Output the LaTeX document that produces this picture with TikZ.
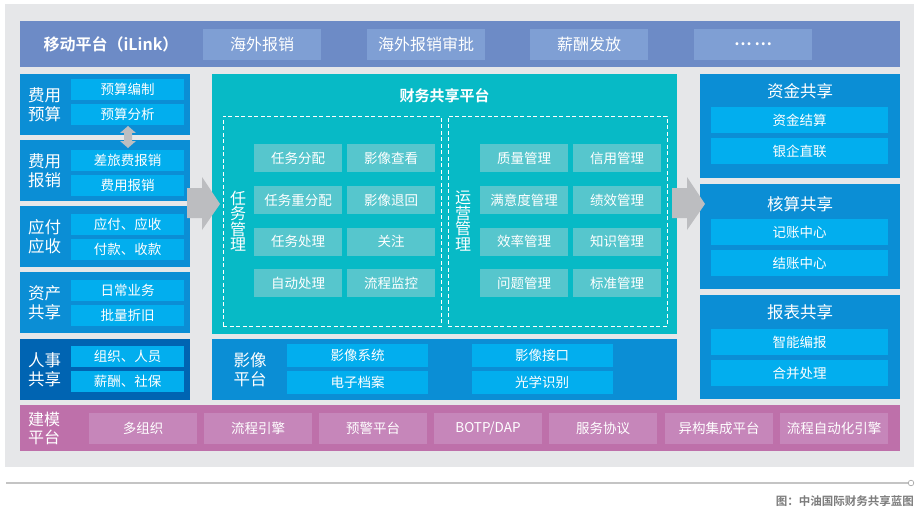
\documentclass[tikz,border=0pt]{standalone}
\usepackage{fontspec}
\setmainfont{Noto Sans CJK SC}[BoldFont={Noto Sans CJK SC Bold}]
\definecolor{bggray}{HTML}{E6E7E9}
\definecolor{topbar}{HTML}{6D8BC6}
\definecolor{topitem}{HTML}{7F9FD4}
\definecolor{blk}{HTML}{0B8ED5}
\definecolor{blkdark}{HTML}{0064B2}
\definecolor{subb}{HTML}{02AEEE}
\definecolor{teal}{HTML}{07BAC6}
\definecolor{tealitem}{HTML}{56C6CD}
\definecolor{purp}{HTML}{BE70AA}
\definecolor{purpitem}{HTML}{C686BA}
\definecolor{arrgray}{HTML}{BCBDC0}
\definecolor{capgray}{HTML}{7C7C7C}
\definecolor{linegray}{HTML}{C4C4C4}
\tikzset{
  base/.style={inner sep=0pt, outer sep=0pt, text=white, align=center},
  panel/.style={base, fill=blk},
  subbox/.style={base, fill=subb, font=\fontsize{13.5}{15}\selectfont},
  topitembox/.style={base, fill=topitem, minimum width=118pt, minimum height=31pt, font=\fontsize{16}{17}\selectfont},
  gridbox/.style={base, fill=tealitem, minimum width=88pt, minimum height=28pt, font=\fontsize{13.5}{15}\selectfont},
  purpbox/.style={base, fill=purpitem, minimum width=108pt, minimum height=31pt, font=\fontsize{13.5}{15}\selectfont},
  biglabel/.style={base, font=\fontsize{16.5}{19}\selectfont},
  vlabel/.style={base, font=\fontsize{16}{15.5}\selectfont},
  dashbox/.style={draw=white, line width=0.8pt, dash pattern=on 4pt off 2.5pt, inner sep=0pt, outer sep=0pt},
  bigarrow/.style={fill=arrgray, draw=none}
}
\begin{document}
\begin{tikzpicture}[x=1pt,y=-1pt]
\useasboundingbox (0,0) rectangle (923,516);
% background
\fill[bggray] (5,4) rectangle (914,467);

% top bar
\node[base, fill=topbar, minimum width=880pt, minimum height=46pt] (top) at (460,44) {};
\node[base, font=\bfseries\fontsize{16}{17}\selectfont] (toplbl) at (111,44) {移动平台（iLink）};
\node[topitembox] (t1) at (262,44.5) {海外报销};
\node[topitembox] (t2) at (426,44.5) {海外报销审批};
\node[topitembox] (t3) at (589,44.5) {薪酬发放};
\node[topitembox] (t4) at (753,44.5) {\textbf{…\,…}};

% left column
\node[panel, minimum width=170pt, minimum height=61pt] (L1) at (105,104.5) {};
\node[panel, minimum width=170pt, minimum height=61pt] (L2) at (105,170.5) {};
\node[panel, minimum width=170pt, minimum height=61pt] (L3) at (105,236.5) {};
\node[panel, minimum width=170pt, minimum height=61pt] (L4) at (105,302.5) {};
\node[panel, fill=blkdark, minimum width=170pt, minimum height=61pt] (L5) at (105,369.5) {};

\node[biglabel] (L1t) at (44.5,104.5) {费用\\预算};
\node[biglabel] (L2t) at (44.5,170.5) {费用\\报销};
\node[biglabel] (L3t) at (44.5,236.5) {应付\\应收};
\node[biglabel] (L4t) at (44.5,302.5) {资产\\共享};
\node[biglabel] (L5t) at (44.5,369.5) {人事\\共享};

\tikzset{lsub/.style={subbox, minimum width=113pt, minimum height=21pt}}
\node[lsub] (l1a) at (127.5,89.5) {预算编制};
\node[lsub] (l1b) at (127.5,114.5) {预算分析};
\node[lsub] (l2a) at (127.5,160.5) {差旅费报销};
\node[lsub] (l2b) at (127.5,185.5) {费用报销};
\node[lsub] (l3a) at (127.5,224.5) {应付、应收};
\node[lsub] (l3b) at (127.5,249) {付款、收款};
\node[lsub] (l4a) at (127.5,290.5) {日常业务};
\node[lsub] (l4b) at (127.5,315.5) {批量折旧};
\node[lsub] (l5a) at (127.5,356.5) {组织、人员};
\node[lsub] (l5b) at (127.5,381.5) {薪酬、社保};

% double arrow between budget and expense blocks
\fill[arrgray] (128,126) -- (136,133) -- (132,133) -- (132,141) -- (136,141) -- (128,148)
  -- (120,141) -- (124,141) -- (124,133) -- (120,133) -- cycle;

% central platform
\node[base, fill=teal, minimum width=465pt, minimum height=260pt] (C) at (444.5,204) {};
\node[base, font=\bfseries\fontsize{15}{17}\selectfont] (Ct) at (444.5,96) {财务共享平台};
\node[dashbox, minimum width=218pt, minimum height=210pt] (DL) at (332,221) {};
\node[dashbox, minimum width=219pt, minimum height=210pt] (DR) at (557.5,221) {};
\node[vlabel] (DLt) at (238,221) {任\\务\\管\\理};
\node[vlabel] (DRt) at (463,221) {运\\营\\管\\理};

\node[gridbox] (g11) at (298,158) {任务分配};
\node[gridbox] (g12) at (391,158) {影像查看};
\node[gridbox] (g21) at (298,200) {任务重分配};
\node[gridbox] (g22) at (391,200) {影像退回};
\node[gridbox] (g31) at (298,241.5) {任务处理};
\node[gridbox] (g32) at (391,241.5) {关注};
\node[gridbox] (g41) at (298,283) {自动处理};
\node[gridbox] (g42) at (391,283) {流程监控};

\node[gridbox] (h11) at (524,158) {质量管理};
\node[gridbox] (h12) at (617,158) {信用管理};
\node[gridbox] (h21) at (524,200) {满意度管理};
\node[gridbox] (h22) at (617,200) {绩效管理};
\node[gridbox] (h31) at (524,241.5) {效率管理};
\node[gridbox] (h32) at (617,241.5) {知识管理};
\node[gridbox] (h41) at (524,283) {问题管理};
\node[gridbox] (h42) at (617,283) {标准管理};

% image platform
\node[panel, minimum width=465pt, minimum height=61pt] (I) at (444.5,369.5) {};
\node[biglabel] (It) at (250,370) {影像\\平台};
\tikzset{isub/.style={subbox, minimum width=141pt, minimum height=23pt}}
\node[isub] (i1) at (357.5,355.5) {影像系统};
\node[isub] (i2) at (357.5,382.5) {电子档案};
\node[isub] (i3) at (542,355.5) {影像接口};
\node[isub] (i4) at (542,382.5) {光学识别};

% right column
\node[panel, minimum width=200pt, minimum height=104pt] (R1) at (800,126) {};
\node[panel, minimum width=200pt, minimum height=105pt] (R2) at (800,236.5) {};
\node[panel, minimum width=200pt, minimum height=104pt] (R3) at (800,347) {};
\node[biglabel] (R1t) at (800,91) {资金共享};
\node[biglabel] (R2t) at (800,204) {核算共享};
\node[biglabel] (R3t) at (800,312) {报表共享};
\tikzset{rsub/.style={subbox, minimum width=177pt, minimum height=26pt}}
\node[rsub] (r1a) at (799.5,120) {资金结算};
\node[rsub] (r1b) at (799.5,151) {银企直联};
\node[rsub] (r2a) at (799.5,232) {记账中心};
\node[rsub] (r2b) at (799.5,263) {结账中心};
\node[rsub] (r3a) at (799.5,342) {智能编报};
\node[rsub] (r3b) at (799.5,373) {合并处理};

% big arrows
\fill[bigarrow] (187,188) -- (202,188) -- (202,177) -- (220,204) -- (202,230) -- (202,218) -- (187,218) -- cycle;
\fill[bigarrow] (672,188) -- (687,188) -- (687,177) -- (705,204) -- (687,230) -- (687,218) -- (672,218) -- cycle;

% modelling platform
\node[base, fill=purp, minimum width=880pt, minimum height=46pt] (P) at (460,428) {};
\node[base, font=\fontsize{16}{18}\selectfont] (Pt) at (44,428) {建模\\平台};
\node[purpbox] (p1) at (143,428.5) {多组织};
\node[purpbox] (p2) at (258,428.5) {流程引擎};
\node[purpbox] (p3) at (373,428.5) {预警平台};
\node[purpbox] (p4) at (488,428.5) {BOTP/DAP};
\node[purpbox] (p5) at (603,428.5) {服务协议};
\node[purpbox] (p6) at (719,428.5) {异构集成平台};
\node[purpbox] (p7) at (834,428.5) {流程自动化引擎};

% caption rule and caption
\coordinate (ruleL) at (6,483);
\coordinate (ruleR) at (908,483);
\draw[linegray, line width=1.6pt] (ruleL) -- (ruleR);
\draw[linegray!80!black, line width=0.6pt, fill=white] (911,483) circle (2.8);
\node[inner sep=0pt, anchor=east, text=capgray, font=\bfseries\fontsize{11.5}{13}\selectfont] (cap) at (914,501) {图：中油国际财务共享蓝图};
\end{tikzpicture}
\end{document}
